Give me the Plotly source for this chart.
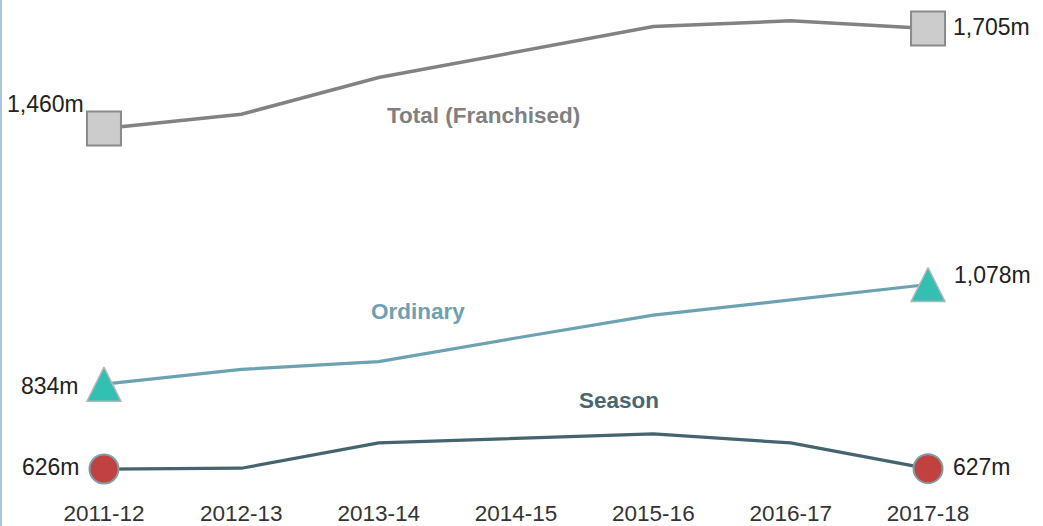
import plotly.graph_objects as go

seasons = ["2011-12", "2012-13", "2013-14", "2014-15", "2015-16", "2016-17", "2017-18"]
total = [1460, 1495, 1585, 1647, 1710, 1724, 1705]
ordinary = [834, 870, 889, 947, 1003, 1040, 1078]
season = [626, 628, 690, 701, 712, 690, 627]

FONT = "Liberation Sans, Arial, sans-serif"

Y_RANGE = [557.5, 1775]
PLOT_H = 497
PX_PER_UNIT = PLOT_H / (Y_RANGE[1] - Y_RANGE[0])
# arrow-up markers hang below their apex, so the triangles sit on an
# overlaid axis nudged by half a marker to centre them on the line ends
TRI_SIZE = 34
tri_off = (TRI_SIZE / 2) / PX_PER_UNIT

fig = go.Figure()

# lines first, end markers on top
fig.add_trace(go.Scatter(x=seasons, y=total, mode="lines",
                         line=dict(color="#828282", width=3.5), hoverinfo="skip"))
fig.add_trace(go.Scatter(x=seasons, y=ordinary, mode="lines",
                         line=dict(color="#6da2b3", width=3.2), hoverinfo="skip"))
fig.add_trace(go.Scatter(x=seasons, y=season, mode="lines",
                         line=dict(color="#45646f", width=3.2), hoverinfo="skip"))

ends = [0, len(seasons) - 1]
fig.add_trace(go.Scatter(
    x=[seasons[i] for i in ends], y=[total[i] for i in ends], mode="markers",
    marker=dict(symbol="square", size=34, color="#cccccc",
                line=dict(color="#8a8a8a", width=2)), hoverinfo="skip"))
fig.add_trace(go.Scatter(
    x=[seasons[i] for i in ends], y=[ordinary[i] for i in ends], mode="markers",
    yaxis="y2",
    marker=dict(symbol="arrow-up", size=TRI_SIZE, color="#33bfb2",
                line=dict(color="#b4b8b8", width=1.5)), hoverinfo="skip"))
fig.add_trace(go.Scatter(
    x=[seasons[i] for i in ends], y=[season[i] for i in ends], mode="markers",
    marker=dict(symbol="circle", size=29, color="#c1413f",
                line=dict(color="#7d9ea8", width=2)), hoverinfo="skip"))

def val_label(i, v, xshift, yshift):
    return dict(x=i, y=v, text=f"{v:,}m", showarrow=False,
                xanchor="right" if xshift < 0 else "left",
                xshift=xshift, yshift=yshift,
                font=dict(family=FONT, size=23, color="#222222"))

annotations = [
    val_label(0, total[0], -18, 25),
    val_label(6, total[-1], 23, 2),
    val_label(0, ordinary[0], -23, -2),
    val_label(6, ordinary[-1], 24, 10),
    val_label(0, season[0], -22, 2),
    val_label(6, season[-1], 23, 2),
    dict(x=2.76, y=1491, text="<b>Total (Franchised)</b>", showarrow=False,
         font=dict(family=FONT, size=22.5, color="#808080")),
    dict(x=2.29, y=1013, text="<b>Ordinary</b>", showarrow=False,
         font=dict(family=FONT, size=22.5, color="#6f9fb0")),
    dict(x=3.75, y=793, text="<b>Season</b>", showarrow=False,
         font=dict(family=FONT, size=22.5, color="#4a6670")),
]

fig.update_layout(
    width=1043, height=526,
    margin=dict(l=0, r=0, t=0, b=526 - PLOT_H),
    paper_bgcolor="white", plot_bgcolor="white",
    showlegend=False,
    annotations=annotations,
    shapes=[dict(type="line", xref="paper", yref="paper", x0=0.001, x1=0.001,
                 y0=-0.1, y1=1.1, line=dict(color="#a9c4d8", width=2))],
    xaxis=dict(type="category", range=[-0.757, 6.837], showgrid=False,
               zeroline=False, showline=False, ticks="", automargin=False,
               tickfont=dict(family=FONT, size=22.5, color="#333333")),
    yaxis=dict(range=Y_RANGE, visible=False, showgrid=False, automargin=False),
    yaxis2=dict(range=[Y_RANGE[0] - tri_off, Y_RANGE[1] - tri_off],
                overlaying="y", visible=False, showgrid=False, automargin=False),
)

fig.write_html("out.html", config={"displayModeBar": False},
               post_script="document.body.style.margin='0px';")
